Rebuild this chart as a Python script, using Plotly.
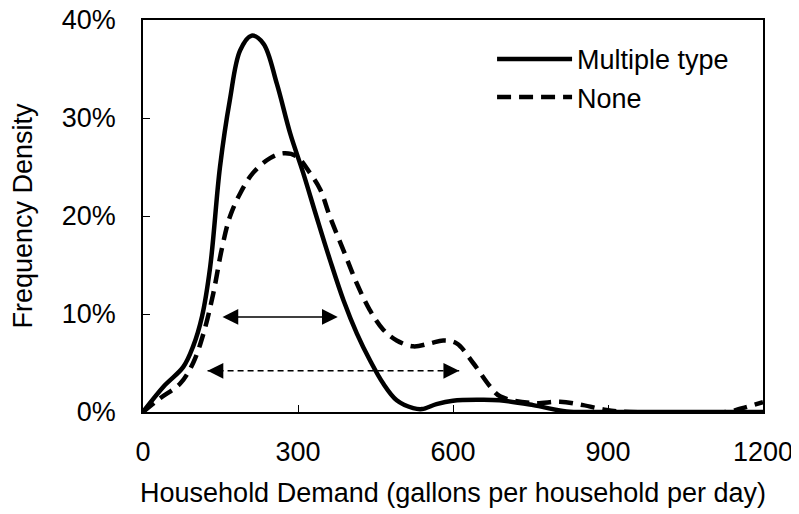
import plotly.graph_objects as go

# Data (x: gallons per household per day, y: frequency density in %)
multi_x = [0, 40, 78, 97, 114, 130, 149, 168, 188, 210, 233, 259, 285, 310, 336, 362,
           388, 414, 439, 465, 491, 523, 540, 568, 600, 650, 690, 755, 820, 884, 1000, 1200]
multi_y = [0, 2.6, 4.6, 6.7, 9.7, 14.8, 25.0, 31.8, 36.9, 38.4, 37.6, 33.5, 28.4, 24.4, 19.9, 15.5,
           11.4, 8.0, 5.3, 2.9, 1.2, 0.4, 0.3, 0.8, 1.15, 1.25, 1.2, 0.7, 0.05, 0, 0, 0]

none_x = [0, 33, 72, 97, 117, 136, 152, 168, 188, 213, 246, 272, 297, 323, 343, 362,
          388, 414, 439, 465, 491, 523, 555, 581, 607, 639, 672, 691, 755, 807, 852, 897,
          942, 1129, 1160, 1200]
none_y = [0, 1.4, 2.9, 5.0, 8.0, 12.1, 16.5, 19.9, 22.3, 24.4, 25.9, 26.4, 26.1, 24.4, 22.7, 19.9,
          16.5, 13.1, 10.4, 8.4, 7.3, 6.7, 7.0, 7.3, 7.0, 5.0, 2.6, 1.6, 0.9, 1.05, 0.7, 0.2,
          0, 0, 0.4, 1.0]

# Range arrows: [start, end] in x, and their y level (%)
arrow_multi_x = [151, 377]
arrow_multi_y = 9.7
arrow_none_x = [125, 612]
arrow_none_y = 4.2

x_ticks = [0, 300, 600, 900, 1200]
y_ticks = [0, 10, 20, 30, 40]
y_tick_labels = ["0%", "10%", "20%", "30%", "40%"]

FONT = "Liberation Sans, Arial, sans-serif"
FS = 27

fig = go.Figure()
fig.add_trace(go.Scatter(
    x=multi_x, y=multi_y, mode="lines", name="Multiple type", legendgroup="a",
    line=dict(color="black", width=4.5, shape="spline", smoothing=1.0),
))
fig.add_trace(go.Scatter(
    x=none_x, y=none_y, mode="lines", name="None", legendgroup="b",
    line=dict(color="black", width=4.5, dash="14px,8px", shape="spline", smoothing=1.0),
))

# dashed arrow shaft
fig.add_trace(go.Scatter(
    x=arrow_none_x, y=[arrow_none_y, arrow_none_y], mode="lines", showlegend=False,
    line=dict(color="black", width=1.5, dash="6px,4px"), hoverinfo="skip",
))

# solid double arrow
fig.add_annotation(
    x=arrow_multi_x[1], y=arrow_multi_y, ax=arrow_multi_x[0], ay=arrow_multi_y,
    xref="x", yref="y", axref="x", ayref="y", text="", showarrow=True,
    arrowside="end+start", arrowhead=2, startarrowhead=2,
    arrowsize=2.1, startarrowsize=2.1, arrowwidth=1.5, arrowcolor="black",
)
# dashed arrow heads (short arrows whose shaft hides under the head)
for tip, tail in [(arrow_none_x[0], arrow_none_x[0] + 25), (arrow_none_x[1], arrow_none_x[1] - 25)]:
    fig.add_annotation(
        x=tip, y=arrow_none_y, ax=tail, ay=arrow_none_y,
        xref="x", yref="y", axref="x", ayref="y", text="", showarrow=True,
        arrowhead=2, arrowsize=2.1, arrowwidth=1.5, arrowcolor="black",
    )

fig.update_layout(
    width=791, height=506,
    margin=dict(l=135, r=36, t=12, b=102, autoexpand=False),
    paper_bgcolor="white", plot_bgcolor="white",
    font=dict(family=FONT, size=FS, color="black"),
    showlegend=True,
    legend=dict(
        x=0.563, y=0.962, xanchor="left", yanchor="top",
        bgcolor="rgba(0,0,0,0)", font=dict(family=FONT, size=FS, color="black"),
        itemwidth=75, tracegroupgap=0,
    ),
    xaxis=dict(
        range=[0, 1200], tickvals=x_ticks, ticks="inside", ticklen=7, tickwidth=1,
        tickcolor="black", showline=True, linecolor="black", linewidth=1.5, mirror=True,
        showgrid=False, zeroline=False, ticklabelstandoff=15, ticklabeloverflow="allow",
        title=dict(text="Household Demand (gallons per household per day)", standoff=17,
                   font=dict(family=FONT, size=FS)),
        tickfont=dict(family=FONT, size=FS),
    ),
    yaxis=dict(
        range=[0, 40], tickvals=y_ticks, ticktext=y_tick_labels, ticks="inside", ticklen=7,
        tickwidth=1, tickcolor="black", showline=True, linecolor="black", linewidth=1.5,
        mirror=True, showgrid=False, zeroline=False, ticklabelstandoff=20,
        ticklabeloverflow="allow",
        title=dict(text="Frequency Density", standoff=24, font=dict(family=FONT, size=FS)),
        tickfont=dict(family=FONT, size=FS),
    ),
)

fig.write_html("out.html")
